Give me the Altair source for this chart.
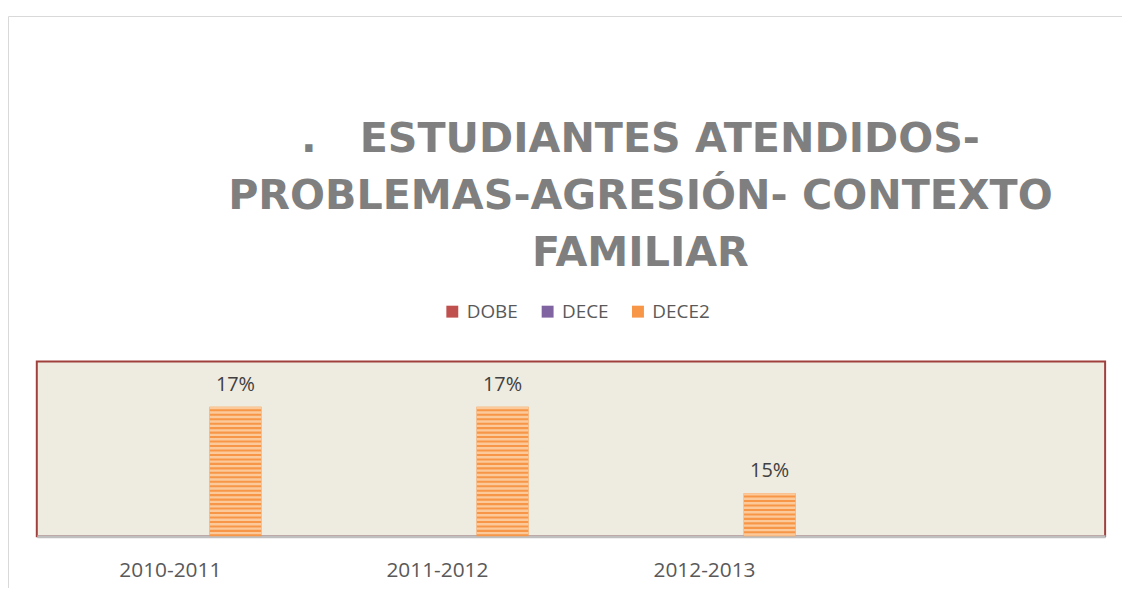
import altair as alt
import pandas as pd

# ---- data ----
years = ["2010-2011", "2011-2012", "2012-2013", " "]
series = ["DOBE", "DECE", "DECE2"]
dobe = [None, None, None, None]
dece = [None, None, None, None]
dece2 = [0.17, 0.17, 0.15, None]
colors = ["#C0504D", "#8064A2", "#F79646"]
title_lines = [".\u00a0\u00a0\u00a0ESTUDIANTES ATENDIDOS-", "PROBLEMAS-AGRESIÓN- CONTEXTO", "FAMILIAR"]

rows = []
for name, vals in zip(series, [dobe, dece, dece2]):
    for yr, v in zip(years, vals):
        if v is not None:
            rows.append({"year": yr, "serie": name, "value": v})
df = pd.DataFrame(rows)

x_enc = alt.X("year:N", sort=years,
              scale=alt.Scale(domain=years, paddingInner=0, paddingOuter=0),
              axis=alt.Axis(title=None, labelAngle=0, ticks=False, domainColor="#BFBFBF",
                            domainWidth=3, labelFont="Open Sans", labelFontSize=21,
                            labelColor="#595959", labelPadding=23))
xo_enc = alt.XOffset("serie:N", scale=alt.Scale(domain=series, paddingInner=0.2, paddingOuter=0.65))
y_enc = alt.Y("value:Q", scale=alt.Scale(domain=[0.14, 0.1805], zero=False, nice=False), axis=None)

base = alt.Chart(df)

bars = base.mark_bar(strokeWidth=0).encode(
    x=x_enc, xOffset=xo_enc, y=y_enc, y2=alt.datum(0.14),
    color=alt.Color("serie:N", scale=alt.Scale(domain=series, range=colors),
                    legend=alt.Legend(title=None, orient="none", legendX=409, legendY=-60,
                                      direction="horizontal", symbolType="square",
                                      symbolSize=144, symbolStrokeWidth=0,
                                      labelFont="Open Sans", labelFontSize=19,
                                      labelColor="#595959", labelOffset=5,
                                      columnPadding=20, padding=0)),
)

stripes = base.mark_rule(strokeWidth=52, strokeDash=[2.4, 2.1], color="#FBCB9F", opacity=0.95).encode(
    x=x_enc, xOffset=xo_enc, y=y_enc, y2=alt.datum(0.14),
)

labels = base.mark_text(dy=-16, baseline="alphabetic", font="Open Sans", fontSize=20,
                        color="#404040").encode(
    x=x_enc, xOffset=xo_enc, y=y_enc, text=alt.Text("value:Q", format=".0%"),
)

frame = alt.Chart(pd.DataFrame({"f": [0]})).mark_rect(filled=False, stroke="#D9D9D9", strokeWidth=1).encode(
    x=alt.value(-28.5), x2=alt.value(1200), y=alt.value(-347.5), y2=alt.value(700)
)

chart = alt.layer(frame, bars, stripes, labels).properties(
    width=1076, height=176,
    padding={"left": 29, "top": 354, "right": 17, "bottom": 50},
    autosize=alt.AutoSizeParams(type="none"),
    title=alt.Title(text=title_lines, font="DejaVu Sans", fontSize=41.5, fontWeight="bold",
                    color="#7F7F7F", lineHeight=57.5, anchor="middle", frame="group",
                    baseline="bottom", dx=70, offset=-302),
).configure_view(fill="#EEEBE0", stroke="#A0403D", strokeWidth=2)

chart.save("out.html", embed_options={"renderer": "svg", "actions": False})
